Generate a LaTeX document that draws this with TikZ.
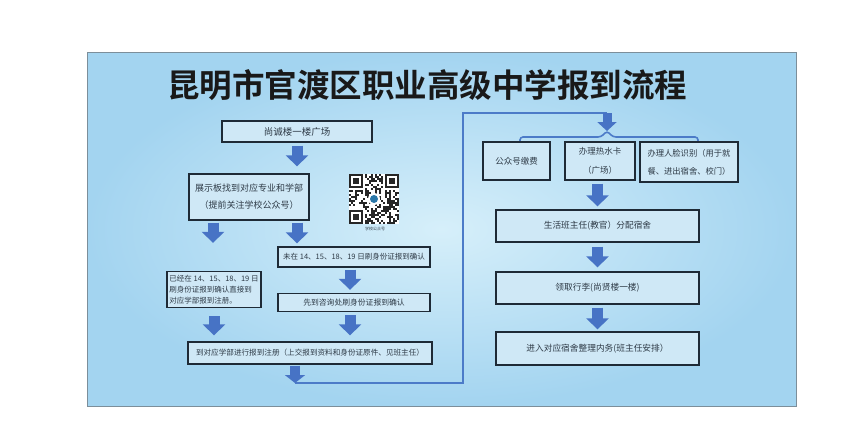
\documentclass[tikz,border=0pt]{standalone}
\usepackage{fontspec}
\newfontfamily\cjk{Noto Sans CJK SC}
\newfontfamily\cjkb{Noto Sans CJK SC Bold}
\usetikzlibrary{arrows.meta}
\definecolor{panelout}{HTML}{A3D4F0}
\definecolor{panelin}{HTML}{D6EFFA}
\definecolor{boxfill}{HTML}{CFE8F6}
\definecolor{boxline}{HTML}{1E2A36}
\definecolor{arrowblue}{HTML}{4773C5}
\definecolor{lineblue}{HTML}{4C7BC8}
\definecolor{txt}{HTML}{2E3A46}
\definecolor{frameline}{HTML}{7C8E9A}
\begin{document}
\begin{tikzpicture}[x=1pt,y=-1pt,
  box/.style={draw=boxline, line width=1.3pt, fill=boxfill, inner sep=1pt, text=txt, align=center},
  fs/.style={font=\cjk\fontsize{#1}{#1}\selectfont},
  bigarrow/.style={arrowblue, line width=11pt, -{Triangle[width=22pt,length=11pt]}},
  smallarrow/.style={arrowblue, line width=9pt, -{Triangle[width=19pt,length=9pt]}},
  connline/.style={lineblue, line width=1.6pt},
]
\useasboundingbox (0,0) rectangle (866,421);
\fill[white] (0,0) rectangle (866,421);
% panel
\shade[inner color=panelin, outer color=panelout] (87,52) rectangle (796,406);
\draw[frameline, line width=1pt] (87,52) rectangle (796,406);

% title
\node[font=\cjkb\fontsize{32.5}{32.5}\selectfont, text=black!90] (title) at (427,85) {昆明市官渡区职业高级中学报到流程};

% left column boxes
\node[box, fs=9.5, minimum width=150pt, minimum height=21pt] (b1) at (297,131.5) {尚诚楼一楼广场};
\node[box, fs=9, minimum width=120pt, minimum height=46pt] (b3) at (249,197) {展示板找到对应专业和学部\\[8pt]（提前关注学校公众号）};
\node[box, fs=7.5, minimum width=152pt, minimum height=20pt] (b6) at (354,257) {未在 14、15、18、19 日刷身份证报到确认};
\node[box, fs=7.5, minimum width=94pt, minimum height=36pt, align=left] (b7) at (214,289.5) {已经在 14、15、18、19 日\\[3.5pt]刷身份证报到确认直接到\\[3.5pt]对应学部报到注册。};
\node[box, fs=7.8, minimum width=152pt, minimum height=18pt] (b9) at (354,302.5) {先到咨询处刷身份证报到确认};
\node[box, fs=7.6, minimum width=244pt, minimum height=22pt] (b11) at (310,353) {到对应学部进行报到注册（上交报到资料和身份证原件、见班主任）};

% QR code
\begin{scope}[shift={(349,174)}]
  \fill[white] (0,0) rectangle (50,50);
  \pgfmathsetseed{4242}
  \foreach \i in {0,...,24}{
    \foreach \j in {0,...,24}{
      \pgfmathrandominteger{\r}{0}{1}
      \ifnum\r=1 \fill[black!85] (\i*2,\j*2) rectangle ++(2,2);\fi
    }
  }
  \foreach \px/\py/\wx/\wy in {0/0/0/0, 36/0/34/0, 0/36/0/34}{
    \fill[white] (\wx,\wy) rectangle ++(16,16);
    \fill[black!85] (\px,\py) rectangle ++(14,14);
    \fill[white] (\px+2,\py+2) rectangle ++(10,10);
    \fill[black!85] (\px+4,\py+4) rectangle ++(6,6);
  }
  \fill[white] (25,25) circle (6);
  \fill[arrowblue!60!teal] (25,25) circle (4);
\end{scope}
\node[fs=4, text=txt] (qrlabel) at (375,229) {学校公众号};

% left arrows
\draw[bigarrow, shorten <=3pt, shorten >=7pt] (b1.south) -- (b1.south |- b3.north);
\coordinate (a2l) at ([xshift=-36pt]b3.south);
\coordinate (a2r) at ([xshift=48pt]b3.south);
\draw[bigarrow, shorten <=2pt, shorten >=28pt] (a2l) -- (a2l |- b7.north);
\draw[bigarrow, shorten <=2pt, shorten >=3pt] (a2r) -- (a2r |- b6.north);
\coordinate (a3) at ([xshift=-4pt]b6.south);
\draw[bigarrow, shorten <=2pt, shorten >=3pt] (a3) -- (a3 |- b9.north);
\draw[bigarrow, shorten <=8pt, shorten >=6pt] (b7.south) -- (b7.south |- b11.north);
\coordinate (a4) at ([xshift=-4pt]b9.south);
\draw[bigarrow, shorten <=3pt, shorten >=6pt] (a4) -- (a4 |- b11.north);

% connector to right column
\coordinate (a5) at ([xshift=-15pt]b11.south);
\coordinate (j1) at (295,383);
\coordinate (j2) at (463,113);
\coordinate (j3) at (607,113);
\coordinate (bk) at (607,131);
\draw[connline] (j1) -| (j2) -- (j3);
\draw[arrowblue, line width=10pt, -{Triangle[width=20pt,length=8pt]}, shorten <=1pt] (a5) -- (j1);
\draw[smallarrow] (j3) -- (bk);
\coordinate (bl) at (520,143);
\coordinate (br) at (698,143);
\draw[connline, rounded corners=3pt] (bl) |- (601,137) -- (bk) -- (613,137) -| (br);

% right column boxes
\node[box, fs=8.5, minimum width=67pt, minimum height=38pt] (r1) at (516.5,161) {公众号缴费};
\node[box, fs=8.5, minimum width=70pt, minimum height=38pt] (r2) at (600,161) {办理热水卡\\[10pt]（广场）};
\node[box, fs=8.3, minimum width=98pt, minimum height=40pt, align=left] (r3) at (689,162) {办理人脸识别（用于就\\[10pt]餐、进出宿舍、校门）};
\node[box, fs=8.7, minimum width=203pt, minimum height=32pt] (r4) at (597.5,226) {生活班主任(教官）分配宿舍};
\node[box, fs=8.7, minimum width=203pt, minimum height=32pt] (r5) at (597.5,288) {领取行李(尚贤楼一楼)};
\node[box, fs=8.7, minimum width=203pt, minimum height=33pt] (r6) at (597.5,348.5) {进入对应宿舍整理内务(班主任安排）};

\draw[bigarrow, shorten <=3pt, shorten >=3pt] (r4.north |- r2.south) -- (r4.north);
\draw[bigarrow, shorten <=4pt, shorten >=4pt] (r4.south) -- (r5.north);
\draw[bigarrow, shorten <=3pt, shorten >=2pt] (r5.south) -- (r6.north);
\end{tikzpicture}
\end{document}
